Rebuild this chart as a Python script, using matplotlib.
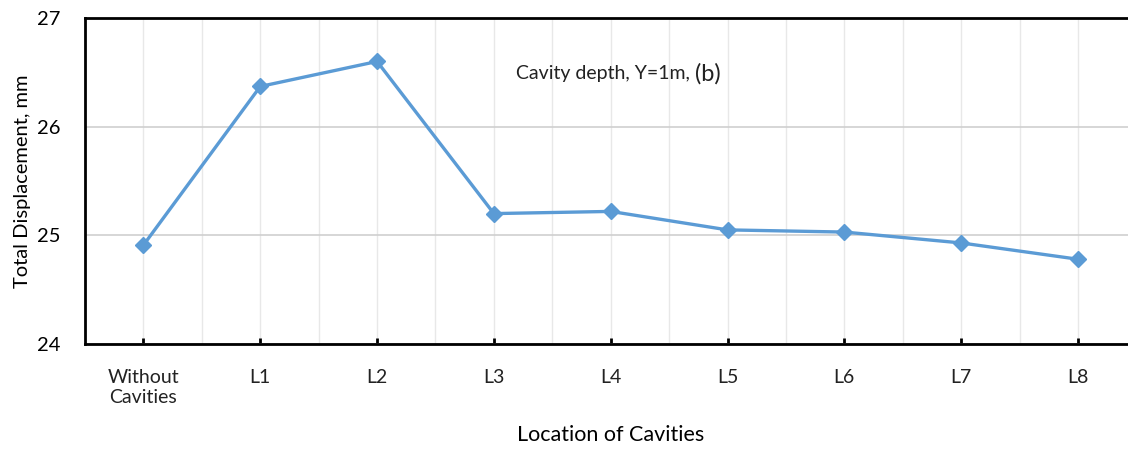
import matplotlib
matplotlib.use("Agg")
import matplotlib.pyplot as plt
from matplotlib.ticker import MultipleLocator

categories = ["Without\nCavities", "L1", "L2", "L3", "L4", "L5", "L6", "L7", "L8"]
displacement = [24.91, 26.37, 26.60, 25.20, 25.22, 25.05, 25.03, 24.93, 24.78]
y_ticks = [24, 25, 26, 27]

plt.rcParams['font.family'] = ['Lato', 'DejaVu Sans']

fig = plt.figure(figsize=(11.28, 4.5), dpi=100)
ax = fig.add_axes([0.0754, 0.2356, 0.932, 0.7244])

x = list(range(len(categories)))
ax.plot(x, displacement, color="#5B9BD5", linewidth=2.4, marker="D",
        markersize=8, zorder=3)

ax.set_xlim(-0.5, len(categories) - 0.5)
ax.set_ylim(24, 27)
ax.set_yticks(y_ticks)
ax.set_xticks(x)
ax.set_xticklabels(categories)
ax.xaxis.set_minor_locator(MultipleLocator(0.5))

ax.grid(axis="x", which="both", color="#e8e8e8", linewidth=1.0, zorder=0)
ax.grid(axis="y", which="major", color="#cfcfcf", linewidth=1.2, zorder=0)

for s in ax.spines.values():
    s.set_linewidth(2.0)
    s.set_color("black")

ax.tick_params(axis="x", which="major", direction="in", length=4, width=2,
               pad=18, labelsize=14, colors="black")
ax.tick_params(axis="x", which="minor", length=0)
ax.tick_params(axis="y", length=0, pad=18, labelsize=14.5)
for lbl in ax.get_xticklabels():
    lbl.set_color("#222222")

ax.set_ylabel("Total Displacement, mm", fontsize=14.5, labelpad=4)
ax.set_xlabel("Location of Cavities", fontsize=15.5, labelpad=14)

t1 = ax.text(3.19, 26.49, "Cavity depth, Y=1m, ", fontsize=14, va="center",
             ha="left", color="#222222")
ax.annotate("(b)", xy=(1.0, 0.5), xycoords=t1, xytext=(0, 0),
            textcoords="offset points", fontsize=17, va="center", ha="left",
            color="#222222")

fig.savefig("out.png", dpi=100)
